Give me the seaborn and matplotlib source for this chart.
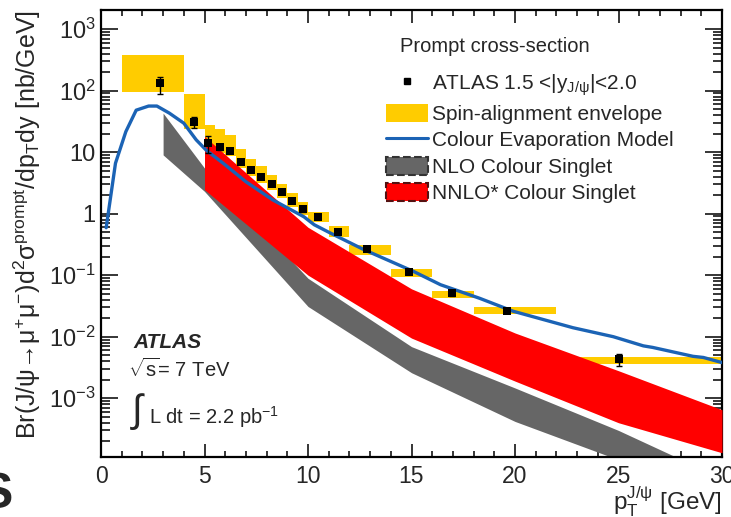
import numpy as np
import seaborn as sns
from matplotlib import pyplot as plt
from matplotlib.lines import Line2D
from matplotlib.patches import Patch
from matplotlib.ticker import LogLocator, FixedLocator, MultipleLocator, NullFormatter

# ATLAS prompt J/psi cross-section, 1.5 < |y| < 2.0
data_pt = [2.85, 4.5, 5.18, 5.75, 6.23, 6.75, 7.25, 7.75, 8.24, 8.74, 9.24, 9.74,
           10.48, 11.45, 12.87, 14.9, 16.94, 19.63, 25.0]
data_xs = [132, 31, 14.1, 12.0, 10.6, 7.0, 5.1, 4.0, 3.0, 2.26, 1.6, 1.17,
           0.87, 0.51, 0.265, 0.112, 0.051, 0.026, 0.0043]
data_err_dn = [44, 6.5, 4.5, 1.2, 0.9, 0.6, 0.4, 0.3, 0.22, 0.17, 0.12, 0.09,
               0.06, 0.035, 0.018, 0.008, 0.0045, 0.002, 0.001]
data_err_up = [32, 6.6, 4.4, 1.2, 0.9, 0.6, 0.4, 0.3, 0.22, 0.17, 0.12, 0.09,
               0.06, 0.035, 0.018, 0.008, 0.0045, 0.002, 0.0009]

# spin-alignment envelope, per pT bin
bin_lo = [1, 4, 5, 5.5, 6, 6.5, 7, 7.5, 8, 8.5, 9, 9.5, 10, 11, 12, 14, 16, 18, 22]
bin_hi = [4, 5, 5.5, 6, 6.5, 7, 7.5, 8, 8.5, 9, 9.5, 10, 11, 12, 14, 16, 18, 22, 30]
env_up = [380, 88, 27.5, 23.8, 19, 11.3, 7.8, 6.0, 4.3, 3.0, 2.15, 1.54,
          1.07, 0.64, 0.31, 0.126, 0.056, 0.030, 0.0046]
env_dn = [96, 23.5, 11, 9.5, 8.5, 5.6, 4.1, 3.2, 2.4, 1.8, 1.28, 0.94,
          0.72, 0.42, 0.21, 0.095, 0.042, 0.023, 0.0036]

# Colour Evaporation Model
cem_pt = [0.25, 0.7, 1.2, 1.7, 2.3, 2.7, 3.3, 4.0, 4.6, 5.1, 5.9, 7.0, 8.3, 9.8,
          10.3, 11.1, 12.7, 15.1, 16.4, 18.3, 19.9, 22.8, 24.75, 26.2, 26.65,
          28.6, 29.1, 30.0]
cem_xs = [0.59, 6.6, 21.5, 48, 56, 56, 43, 29.5, 15.8, 10.6, 6.6, 3.3, 1.67, 0.89,
          0.66, 0.48, 0.26, 0.115, 0.07, 0.042, 0.026, 0.014, 0.010, 0.0071, 0.0067,
          0.0048, 0.0046, 0.0038]

# NLO colour singlet band
nlo_pt = [3, 5, 10, 15, 20, 25, 30]
nlo_hi = [43, 5.5, 0.089, 0.0069, 0.00147, 0.0003, 0.00005]
nlo_lo = [9, 2.3, 0.031, 0.0026, 0.00042, 0.0001, 0.000025]

# NNLO* colour singlet band
nnlo_pt = [5, 10, 15, 20, 25, 30]
nnlo_hi = [18, 0.6, 0.06, 0.0115, 0.0028, 0.00065]
nnlo_lo = [2.45, 0.1, 0.0095, 0.0019, 0.0004, 0.00013]

ytick_vals = [1e3, 1e2, 10, 1, 0.1, 0.01, 0.001]
ytick_labels = ['$10^{3}$', '$10^{2}$', '10', '1', '$10^{-1}$', '$10^{-2}$', '$10^{-3}$']

yellow = '#FFCC00'
blue = '#1B63B5'
grey = '#666666'
red = '#FF0000'

sns.set_style('ticks')
plt.rcParams['font.family'] = ['Liberation Sans', 'DejaVu Sans']
plt.rcParams['mathtext.fontset'] = 'custom'
plt.rcParams['mathtext.rm'] = 'Liberation Sans'
plt.rcParams['mathtext.it'] = 'Liberation Sans:italic'
plt.rcParams['mathtext.bf'] = 'Liberation Sans:bold'
plt.rcParams['mathtext.sf'] = 'Liberation Sans'

W, H = 731, 517
fig = plt.figure(figsize=(W / 100, H / 100), dpi=100)
ax = fig.add_axes([101 / W, 1 - 457 / H, 621 / W, 447 / H])

# yellow boxes
widths = np.array(bin_hi) - np.array(bin_lo)
heights = np.array(env_up) - np.array(env_dn)
ax.bar(bin_lo, heights, width=widths, bottom=env_dn, align='edge',
       color=yellow, linewidth=0, zorder=1)

# theory bands
ax.fill_between(nlo_pt, nlo_lo, nlo_hi, color=grey, linewidth=0, zorder=2)
ax.fill_between(nnlo_pt, nnlo_lo, nnlo_hi, color=red, linewidth=0, zorder=3)

# CEM curve
sns.lineplot(x=cem_pt, y=cem_xs, ax=ax, color=blue, linewidth=2.4, zorder=4)

# data
ax.errorbar(data_pt, data_xs, yerr=[data_err_dn, data_err_up], fmt='none',
            ecolor='black', elinewidth=1.0, capsize=2.5, capthick=1.0, zorder=5)
sns.scatterplot(x=data_pt, y=data_xs, ax=ax, marker='s', s=28, color='black',
                edgecolor='black', linewidth=0, zorder=6)

ax.set_yscale('log')
ax.set_xlim(0, 30)
ax.set_ylim(1.11e-4, 2037)

ax.yaxis.set_major_locator(FixedLocator(ytick_vals))
ax.set_yticklabels(ytick_labels)
ax.yaxis.set_minor_locator(LogLocator(base=10, subs=np.arange(2, 10), numticks=20))
ax.yaxis.set_minor_formatter(NullFormatter())
ax.xaxis.set_major_locator(MultipleLocator(5))
ax.xaxis.set_minor_locator(MultipleLocator(1))

ax.tick_params(axis='both', which='both', direction='in', top=True, right=True,
               width=1.1, color='black')
ax.tick_params(axis='y', which='major', length=12, labelsize=17, pad=4)
ax.tick_params(axis='y', which='minor', length=6.5)
ax.tick_params(axis='x', which='major', length=9.5, labelsize=16.5, pad=6)
ax.tick_params(axis='x', which='minor', length=4.5)
for sp in ax.spines.values():
    sp.set_linewidth(1.6)
    sp.set_color('black')

ax.set_xlabel('')
ax.set_ylabel('')

fig.text(27 / W, 1 - 10 / H,
         r'Br(J/ψ→μ$^{+}$μ$^{-}$)d$^{2}$σ$^{\rm prompt}$/dp$_{\rm T}$dy [nb/GeV]',
         rotation=90, ha='center', va='top', fontsize=18)
fig.text(722 / W, 1 - 510 / H, r'p$_{\rm T}^{\rm J/\psi}$ [GeV]',
         ha='right', va='baseline', fontsize=17.5)

# partly cut letter from the neighbouring panel
fig.text(13 / W, 1 - 508 / H, 'S', ha='right', va='baseline', fontsize=36,
         fontweight='bold')

# ATLAS label
fig.text(133 / W, 1 - 342 / H, 'ATLAS', fontsize=15, fontweight='bold',
         fontstyle='italic', va='center', ha='left')
fig.text(128 / W, 1 - 369 / H, r'$\sqrt{\rm s}$= 7 TeV', fontsize=14.5,
         va='center', ha='left')
fig.text(130 / W, 1 - 411 / H, r'$\int$', fontsize=28, va='center', ha='left')
fig.text(149 / W, 1 - 417 / H, r'L dt = 2.2 pb$^{-1}$', fontsize=14.5,
         va='center', ha='left')

# legend
fig.text(400 / W, 1 - 47 / H, 'Prompt cross-section', fontsize=14.5,
         va='center', ha='left')
handles = [
    Line2D([], [], marker='s', color='black', linestyle='none', markersize=4),
    Patch(facecolor=yellow, edgecolor='none'),
    Line2D([], [], color=blue, linewidth=2.2),
    Patch(facecolor=grey, edgecolor='#333333', linestyle='--', linewidth=1.5),
    Patch(facecolor=red, edgecolor='#551111', linestyle='--', linewidth=1.5),
]
labels = [r'ATLAS 1.5 <|y$_{\rm J/\psi}$|<2.0', 'Spin-alignment envelope',
          'Colour Evaporation Model', 'NLO Colour Singlet', 'NNLO* Colour Singlet']
leg = ax.legend(handles, labels, loc='upper left',
                bbox_to_anchor=(386 / W, 1 - 72 / H), bbox_transform=fig.transFigure,
                frameon=False, fontsize=15, borderpad=0,
                borderaxespad=0, labelspacing=0.3, handlelength=2.0,
                handleheight=0.95, handletextpad=0.22)

fig.savefig('out.png', dpi=100)
